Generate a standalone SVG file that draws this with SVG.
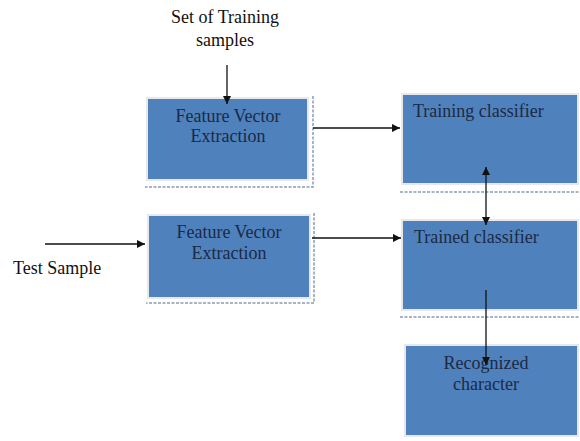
<svg xmlns="http://www.w3.org/2000/svg" width="580" height="441" viewBox="0 0 580 441">
<style>
.box{fill:#4f81bd;stroke:#e8e8e8;stroke-width:2}
.shadow{fill:none;stroke:#8a9ab5;stroke-width:1.5;stroke-dasharray:3 1.5}
.t{font-family:"Liberation Serif",serif;font-size:18px;fill:#1c2a44}
.l{font-family:"Liberation Serif",serif;font-size:18px;fill:#111}
.c{stroke:#111;stroke-width:1.3;fill:none}
</style>
<defs>
<marker id="ah" viewBox="0 0 10 10" refX="10" refY="5" markerWidth="8" markerHeight="8" markerUnits="userSpaceOnUse" orient="auto-start-reverse">
<path d="M0,0 L10,5 L0,10 z" fill="#111"/>
</marker>
</defs>
<rect width="580" height="441" fill="#fff"/>
<text class="l" x="225" y="23" text-anchor="middle">Set of Training</text>
<text class="l" x="225" y="46" text-anchor="middle">samples</text>
<text class="l" x="13" y="274">Test Sample</text>
<g id="fve1">
<rect class="box" x="147" y="98" width="161" height="82"/>
<polyline class="shadow" points="313,96 313,187 145,187"/>
<text class="t" x="228" y="122" text-anchor="middle">Feature Vector</text>
<text class="t" x="228" y="142" text-anchor="middle">Extraction</text>
</g>
<g id="training">
<rect class="box" x="402" y="94" width="176" height="90"/>
<line class="shadow" x1="400" y1="192" x2="580" y2="192"/>
<text class="t" x="413" y="117">Training classifier</text>
</g>
<g id="fve2">
<rect class="box" x="148" y="215" width="162" height="83"/>
<polyline class="shadow" points="314,213 314,303 146,303"/>
<text class="t" x="229" y="238" text-anchor="middle">Feature Vector</text>
<text class="t" x="229" y="259" text-anchor="middle">Extraction</text>
</g>
<g id="trained">
<rect class="box" x="402" y="220" width="176" height="90"/>
<line class="shadow" x1="400" y1="317" x2="580" y2="317"/>
<text class="t" x="414" y="243">Trained classifier</text>
</g>
<g id="recognized">
<rect class="box" x="405" y="345" width="173" height="91"/>
<text class="t" x="486" y="369" text-anchor="middle">Recognized</text>
<text class="t" x="486" y="390" text-anchor="middle">character</text>
</g>
<g id="connectors">
<line class="c" x1="227" y1="65" x2="227" y2="104" marker-end="url(#ah)"/>
<line class="c" x1="313" y1="128" x2="400" y2="128" marker-end="url(#ah)"/>
<line class="c" x1="45" y1="244" x2="145" y2="244" marker-end="url(#ah)"/>
<line class="c" x1="312" y1="238" x2="401" y2="238" marker-end="url(#ah)"/>
<line class="c" x1="486" y1="167" x2="486" y2="225" marker-start="url(#ah)" marker-end="url(#ah)"/>
<line class="c" x1="486" y1="290" x2="486" y2="365" marker-end="url(#ah)"/>
</g>
</svg>
